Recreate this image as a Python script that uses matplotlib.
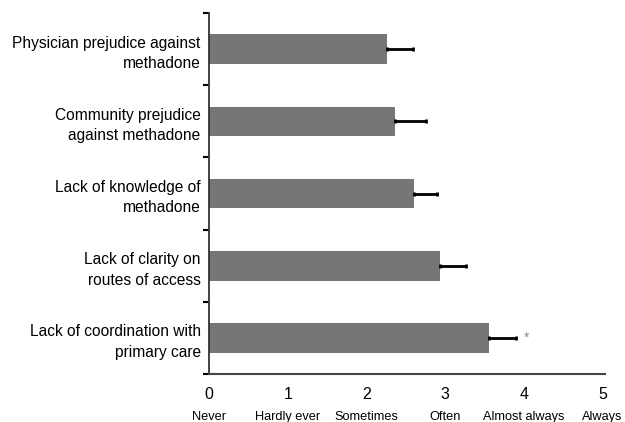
import matplotlib.pyplot as plt

plt.rcParams['font.family'] = ['Liberation Sans', 'DejaVu Sans']

# barriers, bottom to top
barriers = [
    "Lack of coordination with\nprimary care",
    "Lack of clarity on\nroutes of access",
    "Lack of knowledge of\nmethadone",
    "Community prejudice\nagainst methadone",
    "Physician prejudice against\nmethadone",
]
means = [3.56, 2.93, 2.61, 2.36, 2.26]
errors = [0.34, 0.33, 0.28, 0.39, 0.33]
significant = [True, False, False, False, False]

scale_values = [0, 1, 2, 3, 4, 5]
scale_labels = ["Never", "Hardly ever", "Sometimes", "Often", "Almost always", "Always"]

fig = plt.figure(figsize=(6.25, 4.22), dpi=100)
ax = fig.add_axes([0.3344, 0.1137, 0.6336, 0.8555])

pos = list(range(len(barriers)))
ax.barh(pos, means, height=0.41, color="#767676", zorder=2)
ax.errorbar(means, pos, xerr=[[0] * len(errors), errors], fmt="none",
            ecolor="black", elinewidth=2, capsize=1.5, capthick=2, zorder=3)

for p, m, e, s in zip(pos, means, errors, significant):
    if s:
        ax.text(m + e + 0.1, p, "*", color="#888888", fontsize=10,
                ha="left", va="center")

ax.set_xlim(0, 5.03)
ax.set_ylim(-0.5, 4.5)

ax.set_xticks(scale_values)
ax.set_xticklabels([str(v) for v in scale_values], fontsize=11.5)
ax.tick_params(axis="x", length=0, pad=9)

ax.set_yticks([p - 0.5 for p in pos] + [4.5])
ax.set_yticklabels([])
ax.tick_params(axis="y", length=4, width=1.5, direction="out")
ax.set_yticks(pos, minor=True)
ax.set_yticklabels(barriers, minor=True, fontsize=11.2, ha="right",
                   linespacing=1.45)
ax.tick_params(axis="y", which="minor", length=0, pad=6)

for v, lab in zip(scale_values, scale_labels):
    ax.text(v, -0.118, lab, transform=ax.get_xaxis_transform(),
            ha="center", va="center", fontsize=9.2, clip_on=False)

ax.spines["top"].set_visible(False)
ax.spines["right"].set_visible(False)
ax.spines["left"].set_color("#333333")
ax.spines["bottom"].set_color("#444444")
ax.spines["left"].set_linewidth(1.3)
ax.spines["bottom"].set_linewidth(1.5)

fig.savefig("out.png", dpi=100)
